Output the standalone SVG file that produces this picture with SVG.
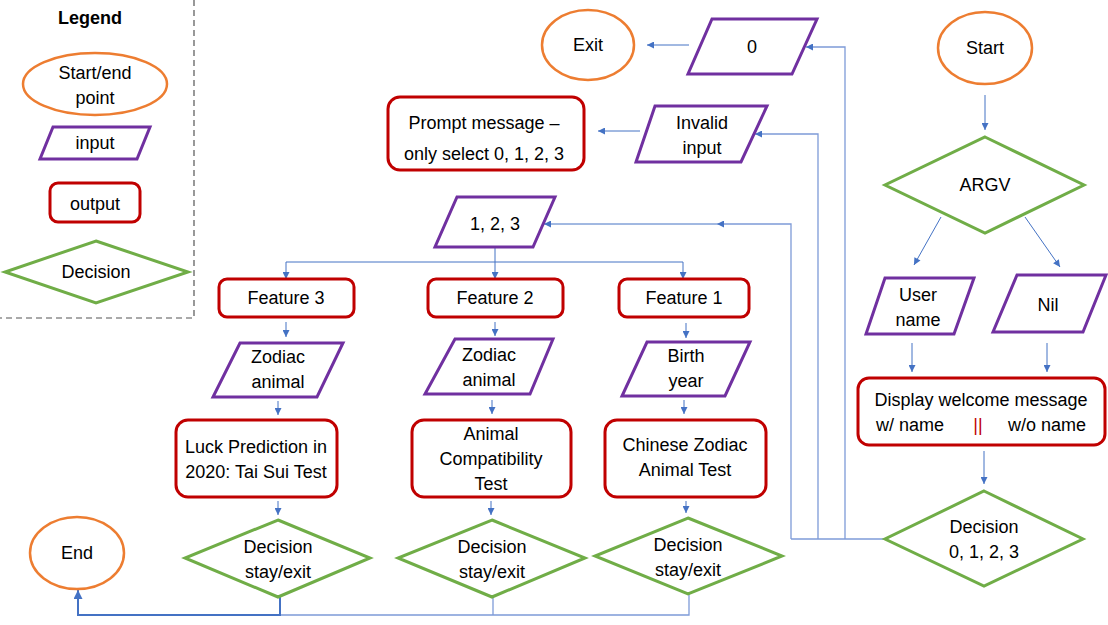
<svg xmlns="http://www.w3.org/2000/svg" width="1108" height="625" viewBox="0 0 1108 625">
<style>
text{font-family:"Liberation Sans",Arial,sans-serif;font-size:18px;fill:#000;text-anchor:middle}
.t{fill:#fff;stroke:#ED7D31;stroke-width:2.5}
.i{fill:#fff;stroke:#7030A0;stroke-width:3}
.o{fill:#fff;stroke:#C00000;stroke-width:3}
.d{fill:#fff;stroke:#70AD47;stroke-width:3}
.c{fill:none;stroke:#4472C4;stroke-width:1}
.l{fill:none;stroke:#7E9BD8;stroke-width:1.3}
.b{fill:none;stroke:#4472C4;stroke-width:2}
</style>
<defs>
<marker id="a" viewBox="0 0 10 10" refX="10" refY="5" markerUnits="userSpaceOnUse" markerWidth="8" markerHeight="7" orient="auto"><path d="M0,0 L10,5 L0,10 z" fill="#4472C4"/></marker>
<marker id="ab" viewBox="0 0 10 10" refX="10" refY="5" markerUnits="userSpaceOnUse" markerWidth="11" markerHeight="9" orient="auto"><path d="M0,0 L10,5 L0,10 z" fill="#4472C4"/></marker>
</defs>
<rect width="1108" height="625" fill="#fff"/>

<g id="legend">
<path d="M194,0 V318 H0" fill="none" stroke="#555" stroke-width="1.2" stroke-dasharray="6,4"/>
<text x="90" y="24" style="font-weight:bold">Legend</text>
<ellipse class="t" cx="95" cy="84" rx="72" ry="31"/>
<text x="95" y="79">Start/end</text>
<text x="95" y="104">point</text>
<polygon class="i" points="53,127 150,127 137,159 40,159"/>
<text x="95" y="149">input</text>
<rect class="o" x="50" y="183" width="90" height="39" rx="8"/>
<text x="95" y="210">output</text>
<polygon class="d" points="96,241 188,272 96,303 5,272"/>
<text x="96" y="278">Decision</text>
</g>

<g id="connectors">
<path class="c" d="M985,95 V130" marker-end="url(#a)"/>
<path class="c" d="M941,217 L914,265" marker-end="url(#a)"/>
<path class="c" d="M1025,217 L1060,267" marker-end="url(#a)"/>
<path class="c" d="M912,343 V372" marker-end="url(#a)"/>
<path class="c" d="M1047,343 V372" marker-end="url(#a)"/>
<path class="c" d="M984,451 V484" marker-end="url(#a)"/>
<path class="l" d="M885,539 H791"/>
<path class="l" d="M845,539 V47 H806" marker-end="url(#a)"/>
<path class="l" d="M818,539 V134 H755" marker-end="url(#a)"/>
<path class="l" d="M791,539 V224 H717" marker-end="url(#a)"/>
<path class="c" d="M717,224 H544" marker-end="url(#a)"/>
<path class="c" d="M689,45 H647" marker-end="url(#a)"/>
<path class="c" d="M640,131 H598" marker-end="url(#a)"/>
<path class="c" d="M495,247 V279" marker-end="url(#a)"/>
<path class="c" d="M495,262 H286 V279" marker-end="url(#a)"/>
<path class="c" d="M495,262 H683 V279" marker-end="url(#a)"/>
<path class="c" d="M286,322 V337" marker-end="url(#a)"/>
<path class="c" d="M495,322 V336" marker-end="url(#a)"/>
<path class="c" d="M686,323 V338" marker-end="url(#a)"/>
<path class="c" d="M278,401 V415" marker-end="url(#a)"/>
<path class="c" d="M492,400 V414" marker-end="url(#a)"/>
<path class="c" d="M684,400 V414" marker-end="url(#a)"/>
<path class="c" d="M278,501 V515" marker-end="url(#a)"/>
<path class="c" d="M491,501 V515" marker-end="url(#a)"/>
<path class="c" d="M686,501 V513" marker-end="url(#a)"/>
<path class="l" d="M689,594 V615 H280"/>
<path class="l" d="M493,597 V615"/>
<path class="b" d="M280,597 V615 H78 V590" marker-end="url(#ab)"/>
</g>

<g id="start"><ellipse class="t" cx="985" cy="48" rx="47" ry="36"/><text x="985" y="54">Start</text></g>
<g id="argv"><polygon class="d" points="985,137 1084,185 985,233 885,185"/><text x="985" y="191">ARGV</text></g>
<g id="username"><polygon class="i" points="885,278 974,278 954,334 866,334"/><text x="918" y="301">User</text><text x="918" y="326">name</text></g>
<g id="nil"><polygon class="i" points="1017,275 1106,275 1083,332 993,332"/><text x="1048" y="311">Nil</text></g>
<g id="welcome"><rect class="o" x="858" y="378" width="247" height="67" rx="11"/><text x="981" y="406">Display welcome message</text><text x="910" y="431">w/ name</text><text x="978" y="431" style="fill:#C00000">||</text><text x="1047" y="431">w/o name</text></g>
<g id="decision0123"><polygon class="d" points="984,491 1083,539 984,586 885,539"/><text x="984" y="533">Decision</text><text x="984" y="558">0, 1, 2, 3</text></g>
<g id="input0"><polygon class="i" points="712,19 817,19 792,74 688,74"/><text x="752" y="53">0</text></g>
<g id="exit"><ellipse class="t" cx="588" cy="45" rx="46" ry="35"/><text x="588" y="51">Exit</text></g>
<g id="invalid"><polygon class="i" points="655,106 767,106 741,162 636,162"/><text x="702" y="129">Invalid</text><text x="702" y="154">input</text></g>
<g id="prompt"><rect class="o" x="388" y="97" width="196" height="73" rx="12"/><text x="484" y="129">Prompt message –</text><text x="484" y="160">only select 0, 1, 2, 3</text></g>
<g id="input123"><polygon class="i" points="457,197 555,197 533,247 435,247"/><text x="495" y="230">1, 2, 3</text></g>
<g id="feature3"><rect class="o" x="219" y="279" width="135" height="38" rx="8"/><text x="286" y="304">Feature 3</text></g>
<g id="feature2"><rect class="o" x="428" y="279" width="135" height="38" rx="8"/><text x="495" y="304">Feature 2</text></g>
<g id="feature1"><rect class="o" x="619" y="279" width="130" height="38" rx="8"/><text x="684" y="304">Feature 1</text></g>
<g id="zodiac3"><polygon class="i" points="240,343 343,343 317,397 213,397"/><text x="278" y="363">Zodiac</text><text x="278" y="388">animal</text></g>
<g id="zodiac2"><polygon class="i" points="455,339 553,339 530,394 425,394"/><text x="489" y="361">Zodiac</text><text x="489" y="386">animal</text></g>
<g id="birthyear"><polygon class="i" points="647,342 750,342 725,396 622,396"/><text x="686" y="362">Birth</text><text x="686" y="387">year</text></g>
<g id="luck"><rect class="o" x="176" y="420" width="161" height="77" rx="12"/><text x="256" y="453">Luck Prediction in</text><text x="256" y="478">2020: Tai Sui Test</text></g>
<g id="compat"><rect class="o" x="412" y="420" width="159" height="77" rx="12"/><text x="491" y="440">Animal</text><text x="491" y="465">Compatibility</text><text x="491" y="490">Test</text></g>
<g id="chinese"><rect class="o" x="605" y="420" width="161" height="77" rx="12"/><text x="685" y="451">Chinese Zodiac</text><text x="685" y="476">Animal Test</text></g>
<g id="decision3"><polygon class="d" points="278,520 370,558 278,597 185,558"/><text x="278" y="553">Decision</text><text x="278" y="578">stay/exit</text></g>
<g id="decision2"><polygon class="d" points="492,520 585,558 492,597 398,558"/><text x="492" y="553">Decision</text><text x="492" y="578">stay/exit</text></g>
<g id="decision1"><polygon class="d" points="688,518 782,556 688,594 595,556"/><text x="688" y="551">Decision</text><text x="688" y="576">stay/exit</text></g>
<g id="end"><ellipse class="t" cx="77" cy="553" rx="47" ry="36"/><text x="77" y="559">End</text></g>
</svg>
